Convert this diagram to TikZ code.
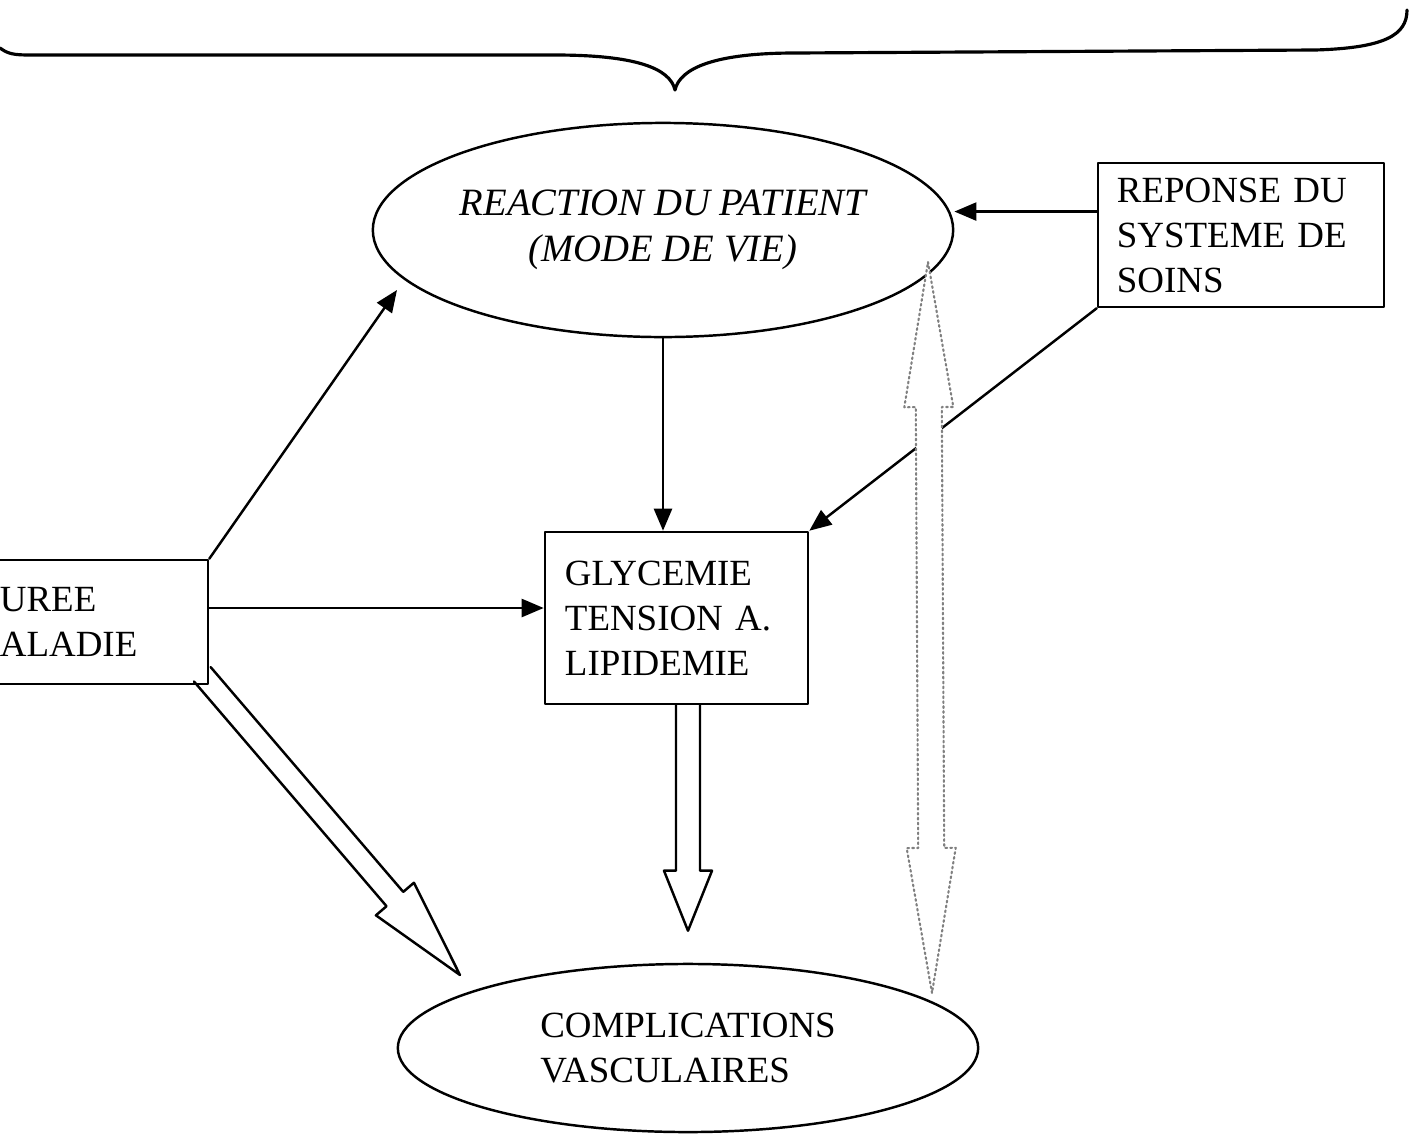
\documentclass[tikz,border=0pt]{standalone}
\usepackage{fontspec}
\setmainfont{Liberation Serif}
\usetikzlibrary{arrows.meta,calc,shapes.geometric}

% hollow arrow: [style]{start}{tip}{shaft half width}{head half width}{head length}
\newcommand{\flechecreuse}[6][]{%
  \coordinate (fcA) at (#2);
  \coordinate (fcB) at (#3);
  \coordinate (fcH) at ($(fcB)!#6!(fcA)$);
  \draw[#1] ($(fcA)!#4!90:(fcB)$) -- ($(fcH)!#4!90:(fcB)$) -- ($(fcH)!#5!90:(fcB)$)
    -- (fcB) -- ($(fcH)!#5!-90:(fcB)$) -- ($(fcH)!#4!-90:(fcB)$) -- ($(fcA)!#4!-90:(fcB)$);
}
% hollow double arrow: [style]{tip 1}{tip 2}{shaft half width}{head half width}{head length}
\newcommand{\flechedouble}[6][]{%
  \coordinate (fdA) at (#2);
  \coordinate (fdB) at (#3);
  \coordinate (fdH) at ($(fdA)!#6!(fdB)$);
  \coordinate (fdK) at ($(fdB)!#6!(fdA)$);
  \draw[#1] (fdA) -- ($(fdH)!#5!90:(fdB)$) -- ($(fdH)!#4!90:(fdB)$) -- ($(fdK)!#4!-90:(fdA)$)
    -- ($(fdK)!#5!-90:(fdA)$) -- (fdB) -- ($(fdK)!#5!90:(fdA)$) -- ($(fdK)!#4!90:(fdA)$)
    -- ($(fdH)!#4!-90:(fdB)$) -- ($(fdH)!#5!-90:(fdB)$) -- cycle;
}

\begin{document}
\begin{tikzpicture}[x=0.01cm, y=-0.01cm, >=Latex, line cap=round, line join=round,
  font=\fontsize{10.5}{12.8}\selectfont]

% ---------- styles ----------
\tikzset{
  boite/.style    ={draw, line width=0.7pt, rectangle, inner ysep=0pt, align=left},
  bulle/.style    ={draw, line width=0.7pt, ellipse, inner sep=0pt, minimum width=5.8cm},
  fleche/.style   ={line width=0.7pt, -{Triangle[length=0.22cm,width=0.18cm]}},
  creuse/.style   ={draw, line width=0.7pt},
  pointille/.style={draw=gray, line width=0.6pt, dash pattern=on 0.5pt off 0.9pt, fill=white},
  accolade/.style ={draw, line width=0.9pt}
}

\path[use as bounding box, fill=white] (0,0) rectangle (1415,1133);

% ---------- top brace ----------
\draw[accolade] (0,48) .. controls (8,54) and (14,55) .. (30,55) -- (555,55)
  .. controls (635,55) and (670,68) .. (675,90)
  .. controls (680,68) and (715,53) .. (795,53) -- (1315,50)
  .. controls (1385,48) and (1407,35) .. (1407,10);

% ---------- nodes ----------
\node[bulle, minimum height=2.14cm, align=center, font=\fontsize{11}{13.2}\selectfont\itshape]
  (reaction) at (663,230) {REACTION DU PATIENT\\(MODE DE VIE)};
\node[boite, minimum height=1.44cm, inner xsep=0.19cm, text width=2.48cm] (reponse) at (1241,235)
  {REPONSE DU\\SYSTEME DE\\SOINS};
\node[boite, minimum height=1.72cm, inner xsep=0.2cm, text width=2.23cm] (glyc) at (676.5,618)
  {GLYCEMIE\\TENSION A.\\LIPIDEMIE};
\node[boite, minimum height=1.24cm, inner xsep=0.4cm, text width=1.68cm] (duree) at (84,622)
  {UREE\\ALADIE};
\node[bulle, minimum height=1.68cm, align=left] (compl) at (688,1048)
  {COMPLICATIONS\\VASCULAIRES};

% ---------- connectors ----------
\coordinate (pointeReaction) at (397,290);
\coordinate (soins) at ($(reponse.north west)!0.34!(reponse.south west)$);
\draw[fleche] (duree.north east) -- (pointeReaction);
\draw[fleche] ([yshift=1.4mm]duree.east) -- ([yshift=1.4mm]duree.east -| glyc.west);
\draw[fleche] (reaction.south) -- (reaction.south |- glyc.north);
\draw[fleche] (soins) -- (soins -| reaction.east);
\draw[fleche] (reponse.south west) -- (glyc.north east);

% hollow arrows
\coordinate (pointeCompl) at (460,975);
\flechecreuse[creuse]{glyc.south -| compl.north}{[yshift=3.2mm]compl.north}{0.12cm}{0.24cm}{0.6cm}
\flechecreuse[creuse]{[shift={(-0.7mm,1.1mm)}]duree.south east}{pointeCompl}{0.11cm}{0.25cm}{1.0cm}

% dotted two-way arrow
\coordinate (haut) at (928,262);
\coordinate (bas)  at (932,993);
\flechedouble[pointille]{haut}{bas}{0.13cm}{0.245cm}{1.45cm}

\end{tikzpicture}
\end{document}
